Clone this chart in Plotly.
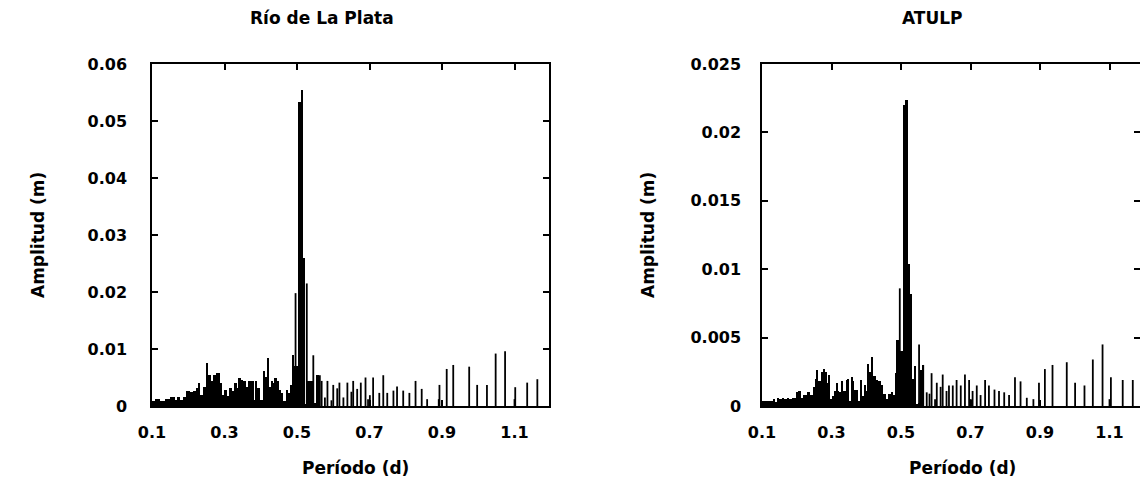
import numpy as np
import plotly.graph_objects as go

# ---------------- data ----------------
period_ticks = [0.1, 0.3, 0.5, 0.7, 0.9, 1.1]
period_tick_labels = ["0.1", "0.3", "0.5", "0.7", "0.9", "1.1"]

rdlp_ticks = [0, 0.01, 0.02, 0.03, 0.04, 0.05, 0.06]
rdlp_tick_labels = ["0", "0.01", "0.02", "0.03", "0.04", "0.05", "0.06"]
atulp_ticks = [0, 0.005, 0.01, 0.015, 0.02, 0.025]
atulp_tick_labels = ["0", "0.005", "0.01", "0.015", "0.02", "0.025"]

# Río de La Plata: dense low-period band (period bin edges, amplitude in m)
rdlp_band_edges = [0.100, 0.108, 0.122, 0.136, 0.150, 0.163, 0.168, 0.177, 0.186, 0.194,
                   0.205, 0.212, 0.221, 0.228, 0.232, 0.242, 0.249, 0.255, 0.263, 0.269,
                   0.277, 0.288, 0.292, 0.299, 0.306, 0.313, 0.320, 0.326, 0.334, 0.338,
                   0.345, 0.352, 0.359, 0.366, 0.372, 0.380, 0.384, 0.391, 0.398, 0.405,
                   0.412, 0.416, 0.423, 0.427, 0.433, 0.439, 0.444, 0.450, 0.456, 0.462,
                   0.470, 0.474, 0.481, 0.487, 0.493, 0.504, 0.510, 0.516, 0.522, 0.527,
                   0.543, 0.552, 0.562]
rdlp_band_amp = [0.0009, 0.0012, 0.0009, 0.0012, 0.0015, 0.0010, 0.0015, 0.0010, 0.0015,
                 0.0026, 0.0024, 0.0026, 0.0031, 0.0041, 0.0019, 0.0034, 0.0075, 0.0054,
                 0.0043, 0.0054, 0.0058, 0.0040, 0.0019, 0.0028, 0.0017, 0.0031, 0.0026,
                 0.0040, 0.0031, 0.0050, 0.0046, 0.0043, 0.0034, 0.0044, 0.0043, 0.0010,
                 0.0044, 0.0031, 0.0010, 0.0061, 0.0051, 0.0085, 0.0034, 0.0044, 0.0040,
                 0.0050, 0.0043, 0.0028, 0.0022, 0.0008, 0.0028, 0.0022, 0.0037, 0.0089,
                 0.0070, 0.0534, 0.0554, 0.0260, 0.0003, 0.0044, 0.0005, 0.0054]
# Río de La Plata: individual spectral lines
rdlp_line_period = [0.496, 0.527, 0.545, 0.563, 0.568, 0.577, 0.584, 0.595, 0.600, 0.611,
                    0.617, 0.628, 0.639, 0.650, 0.655, 0.666, 0.676, 0.689, 0.696, 0.701,
                    0.710, 0.727, 0.738, 0.749, 0.766, 0.776, 0.793, 0.810, 0.827, 0.844,
                    0.859, 0.891, 0.893, 0.913, 0.931, 0.975, 0.997, 1.024, 1.048, 1.074,
                    1.100, 1.102, 1.135, 1.163]
rdlp_line_amp = [0.0198, 0.0215, 0.0089, 0.0054, 0.0044, 0.0015, 0.0044, 0.0010, 0.0037,
                 0.0031, 0.0041, 0.0015, 0.0041, 0.0025, 0.0044, 0.0030, 0.0041, 0.0050,
                 0.0012, 0.0019, 0.0050, 0.0023, 0.0054, 0.0023, 0.0027, 0.0034, 0.0027,
                 0.0023, 0.0044, 0.0030, 0.0012, 0.0012, 0.0037, 0.0065, 0.0072, 0.0069,
                 0.0037, 0.0037, 0.0092, 0.0096, 0.0012, 0.0033, 0.0041, 0.0047]

# ATULP: dense low-period band
atulp_band_edges = [0.100, 0.131, 0.137, 0.142, 0.150, 0.157, 0.163, 0.171, 0.179, 0.185,
                    0.198, 0.205, 0.211, 0.217, 0.229, 0.238, 0.246, 0.253, 0.257, 0.262,
                    0.269, 0.275, 0.281, 0.286, 0.291, 0.296, 0.301, 0.307, 0.313, 0.317,
                    0.323, 0.329, 0.334, 0.342, 0.346, 0.351, 0.355, 0.361, 0.365, 0.377,
                    0.382, 0.387, 0.394, 0.399, 0.403, 0.409, 0.416, 0.420, 0.428, 0.435,
                    0.442, 0.449, 0.457, 0.464, 0.470, 0.476, 0.483, 0.488, 0.493, 0.499,
                    0.507, 0.514, 0.519, 0.526, 0.533, 0.537, 0.543, 0.550, 0.555, 0.560,
                    0.566]
atulp_band_amp = [0.0004, 0.0005, 0.0003, 0.0006, 0.0005, 0.0006, 0.0005, 0.0006, 0.0005,
                  0.0006, 0.0010, 0.0011, 0.0006, 0.0008, 0.0010, 0.0008, 0.0014, 0.0020,
                  0.0026, 0.0018, 0.0025, 0.0027, 0.0025, 0.0017, 0.0023, 0.0005, 0.0007,
                  0.0011, 0.0017, 0.0011, 0.0010, 0.0018, 0.0011, 0.0019, 0.0020, 0.0004,
                  0.0021, 0.0018, 0.0012, 0.0004, 0.0019, 0.0007, 0.0015, 0.0011, 0.0031,
                  0.0025, 0.0036, 0.0022, 0.0019, 0.0018, 0.0015, 0.0009, 0.0005, 0.0009,
                  0.0010, 0.0008, 0.0024, 0.0048, 0.0040, 0.0040, 0.0220, 0.0224, 0.0104,
                  0.0082, 0.0020, 0.0029, 0.0001, 0.0002, 0.0026, 0.0030]
# ATULP: individual spectral lines
atulp_line_period = [0.4965, 0.552, 0.564, 0.574, 0.582, 0.588, 0.598, 0.603, 0.614, 0.620,
                     0.631, 0.638, 0.649, 0.660, 0.672, 0.684, 0.696, 0.701, 0.706, 0.718,
                     0.729, 0.742, 0.753, 0.769, 0.782, 0.797, 0.811, 0.828, 0.844, 0.862,
                     0.881, 0.897, 0.914, 0.936, 0.977, 1.001, 1.028, 1.052, 1.080, 1.100,
                     1.104, 1.138, 1.167]
atulp_line_amp = [0.0086, 0.0045, 0.0030, 0.0010, 0.0009, 0.0024, 0.0005, 0.0017, 0.0014,
                  0.0023, 0.0011, 0.0015, 0.0015, 0.0019, 0.0015, 0.0023, 0.0019, 0.0005,
                  0.0011, 0.0015, 0.0008, 0.0019, 0.0015, 0.0012, 0.0011, 0.0010, 0.0008,
                  0.0021, 0.0018, 0.0006, 0.0005, 0.0017, 0.0027, 0.0030, 0.0032, 0.0017,
                  0.0015, 0.0034, 0.0045, 0.0005, 0.0021, 0.0019, 0.0019]

# ---------------- figure ----------------
W, H = 1140, 488
FONT = "DejaVu Sans"
TXT = dict(family=FONT, size=17, color="black", weight="bold")


def band_trace(edges, amps, xa, ya):
    e = np.asarray(edges, dtype=float)
    return go.Bar(x=e[:-1], y=amps, width=np.diff(e), offset=0,
                  marker=dict(color="black", line=dict(width=0)),
                  xaxis=xa, yaxis=ya, showlegend=False, hoverinfo="skip")


def stem_trace(periods, amps, xa, ya):
    xs, ys = [], []
    for p, a in zip(periods, amps):
        xs += [p, p, None]
        ys += [0, a, None]
    return go.Scatter(x=xs, y=ys, mode="lines", line=dict(color="black", width=1.8),
                      xaxis=xa, yaxis=ya, showlegend=False, hoverinfo="skip")


fig = go.Figure()
fig.add_trace(band_trace(rdlp_band_edges, rdlp_band_amp, "x", "y"))
fig.add_trace(stem_trace(rdlp_line_period, rdlp_line_amp, "x", "y"))
fig.add_trace(band_trace(atulp_band_edges, atulp_band_amp, "x2", "y2"))
fig.add_trace(stem_trace(atulp_line_period, atulp_line_amp, "x2", "y2"))

y_dom = [1 - 406 / H, 1 - 64 / H]
common = dict(showline=True, linecolor="black", linewidth=1.5, mirror="ticks",
              ticks="inside", ticklen=6, tickwidth=1.5, tickcolor="black",
              showgrid=False, zeroline=False, automargin=False,
              tickfont=dict(family=FONT, size=16, color="black", weight="bold"))

fig.update_layout(
    width=W, height=H, margin=dict(l=0, r=0, t=0, b=0, pad=0, autoexpand=False),
    paper_bgcolor="white", plot_bgcolor="white", bargap=0, showlegend=False,
    xaxis=dict(domain=[152 / W, 549 / W], range=[0.1, 0.1 + 397 / 362.5],
               tickvals=period_ticks, ticktext=period_tick_labels,
               ticklabelstandoff=11, anchor="y", **common),
    yaxis=dict(domain=y_dom, range=[0, 0.06], tickvals=rdlp_ticks,
               ticktext=rdlp_tick_labels, ticklabelstandoff=20, anchor="x", **common),
    xaxis2=dict(domain=[762 / W, 1.0], range=[0.1, 0.1 + 378 / 347.5],
                tickvals=period_ticks, ticktext=period_tick_labels,
                ticklabelstandoff=11, anchor="y2", **common),
    yaxis2=dict(domain=y_dom, range=[0, 0.025], tickvals=atulp_ticks,
                ticktext=atulp_tick_labels, ticklabelstandoff=16, anchor="x2", **common),
)

ann = [
    dict(text="Río de La Plata", x=322 / W, y=1 - 18 / H),
    dict(text="ATULP", x=932 / W, y=1 - 18 / H),
    dict(text="Período (d)", x=355 / W, y=1 - 468 / H),
    dict(text="Período (d)", x=962 / W, y=1 - 468 / H),
    dict(text="Amplitud (m)", x=38 / W, y=1 - 235 / H, textangle=-90),
    dict(text="Amplitud (m)", x=648 / W, y=1 - 235 / H, textangle=-90),
]
for a in ann:
    fig.add_annotation(xref="paper", yref="paper", showarrow=False,
                       xanchor="center", yanchor="middle", font=TXT, **a)

fig.write_html("out.html")
